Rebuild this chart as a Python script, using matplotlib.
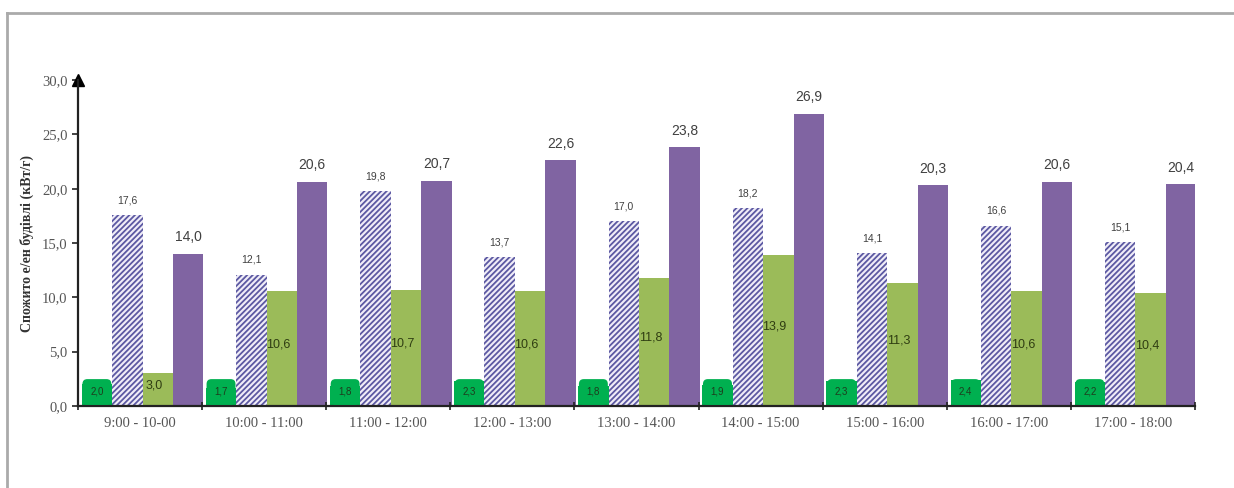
import matplotlib.pyplot as plt
import numpy as np
from matplotlib.lines import Line2D

periods = ['9:00 - 10-00', '10:00 - 11:00', '11:00 - 12:00', '12:00 - 13:00', '13:00 - 14:00',
           '14:00 - 15:00', '15:00 - 16:00', '16:00 - 17:00', '17:00 - 18:00']
ser_green = [2.0, 1.7, 1.8, 2.3, 1.8, 1.9, 2.3, 2.4, 2.2]
ser_hatch = [17.6, 12.1, 19.8, 13.7, 17.0, 18.2, 14.1, 16.6, 15.1]
ser_olive = [3.0, 10.6, 10.7, 10.6, 11.8, 13.9, 11.3, 10.6, 10.4]
ser_purple = [14.0, 20.6, 20.7, 22.6, 23.8, 26.9, 20.3, 20.6, 20.4]
# label text shown on the olive bars (third group is labelled 10,7 in the source)
olive_labels = ['3,0', '10,6', '10,7', '10,6', '11,8', '13,9', '11,3', '10,6', '10,4']

def fmt(v):
    return ('%.1f' % v).replace('.', ',')

plt.rcParams['hatch.linewidth'] = 1.3

fig = plt.figure(figsize=(12.34, 4.88), dpi=100)
ax = fig.add_axes([0.0632, 0.168, 0.9052, 0.668])

x = np.arange(len(periods))
w = 0.245
shift = 0.02

b_green = ax.bar(x - 1.5 * w + shift, ser_green, w, color='#00B050', linewidth=0)
b_hatch = ax.bar(x - 0.5 * w + shift, ser_hatch, w, color='#f0edf8', edgecolor='#5c59a2',
                 hatch='//////', linewidth=0)
b_olive = ax.bar(x + 0.5 * w + shift, ser_olive, w, color='#9BBB59', linewidth=0)
b_purple = ax.bar(x + 1.5 * w + shift, ser_purple, w, color='#8064A2', linewidth=0)

lab_font = 'Liberation Sans'
for xi, v in zip(x - 1.5 * w + shift, ser_green):
    ax.text(xi, 1.3, fmt(v), ha='center', va='center', fontsize=7, color='#1d3d1d',
            family=lab_font,
            bbox=dict(boxstyle='round,pad=0.8,rounding_size=0.5', fc='#00B050', ec='none'))
for xi, v in zip(x - 0.5 * w + shift, ser_hatch):
    ax.annotate(fmt(v), (xi, v), xytext=(0, 7), textcoords='offset points',
                ha='center', va='bottom', fontsize=7.5, color='#404040', family=lab_font)
for xi, v, t in zip(x + 0.5 * w + shift, ser_olive, olive_labels):
    ax.text(xi - 0.03, v / 2 + 0.4, t, ha='center', va='center', fontsize=9,
            color='#2f3d12', family=lab_font)
for xi, v in zip(x + 1.5 * w + shift, ser_purple):
    ax.annotate(fmt(v), (xi, v), xytext=(0, 7), textcoords='offset points',
                ha='center', va='bottom', fontsize=10, color='#404040', family=lab_font)

ax.set_xlim(-0.5, len(periods) - 0.5)
ax.set_ylim(0, 30)
ax.set_yticks(np.arange(0, 30.1, 5))
ax.set_yticklabels([fmt(t) for t in np.arange(0, 30.1, 5)], family='Liberation Serif',
                   fontsize=10.5, color='#555555')
ax.set_xticks(x)
ax.set_xticklabels(periods, family='Liberation Serif', fontsize=10.5, color='#555555')
ax.tick_params(axis='x', length=0, pad=8)
ax.set_xticks(np.arange(-0.5, len(periods)), minor=True)
ax.tick_params(axis='x', which='minor', length=6, width=1.2, color='#222222', direction='inout')
ax.tick_params(axis='y', length=4, width=1.2, color='#222222', direction='out')

ax.set_ylabel('Спожито е/ен будівлі (кВт/г)', family='Liberation Serif', fontweight='bold',
              fontsize=10, color='#333333', labelpad=6)

for s in ['top', 'right']:
    ax.spines[s].set_visible(False)
for s in ['left', 'bottom']:
    ax.spines[s].set_color('#222222')
    ax.spines[s].set_linewidth(1.6)

# arrow head on the value axis
ax.plot([0], [30], marker='^', color='black', markersize=9, clip_on=False,
        transform=ax.get_yaxis_transform())

# outer frame (top and left only)
fig.add_artist(Line2D([0.006, 1.0], [0.974, 0.974], transform=fig.transFigure,
                      color='#aaaaaa', linewidth=2))
fig.add_artist(Line2D([0.006, 0.006], [0.0, 0.974], transform=fig.transFigure,
                      color='#aaaaaa', linewidth=2))

fig.savefig('out.png', dpi=100)
